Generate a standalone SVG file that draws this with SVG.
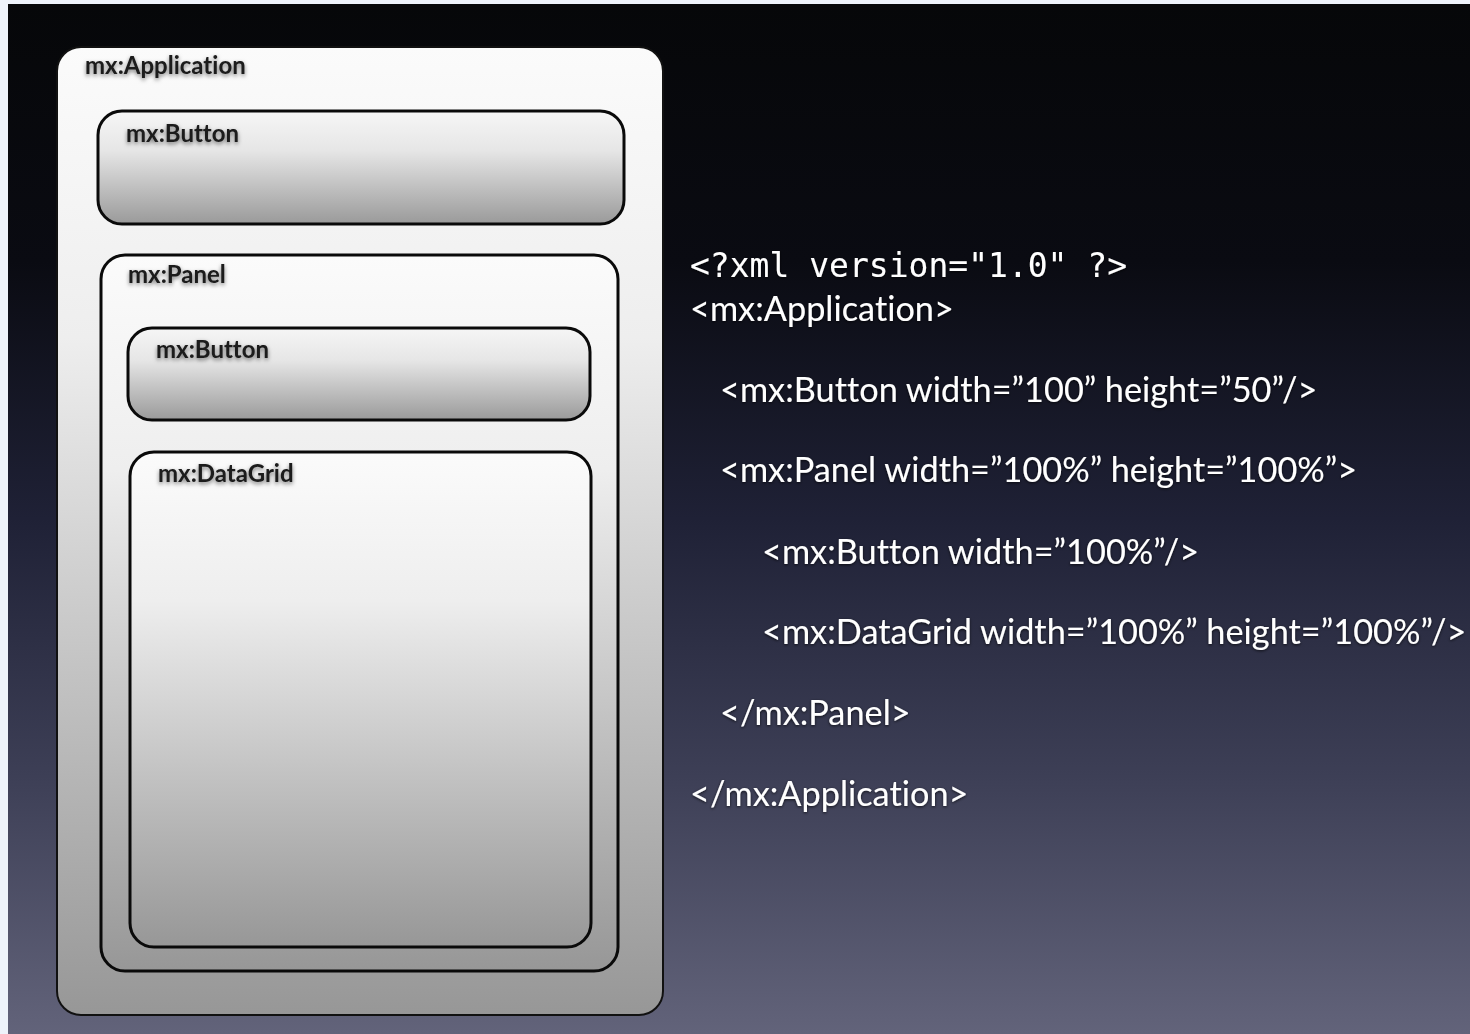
<svg xmlns="http://www.w3.org/2000/svg" width="1470" height="1034" viewBox="0 0 1470 1034">
<defs>
<linearGradient id="bg" x1="0" y1="0" x2="0" y2="1">
<stop offset="0" stop-color="#060709"/>
<stop offset="0.25" stop-color="#0a0b12"/>
<stop offset="0.5" stop-color="#1f2136"/>
<stop offset="0.75" stop-color="#3d3f56"/>
<stop offset="1" stop-color="#62637a"/>
</linearGradient>
<linearGradient id="gApp" x1="0" y1="0" x2="0" y2="1">
<stop offset="0" stop-color="#fbfbfb"/>
<stop offset="0.3" stop-color="#eeeeee"/>
<stop offset="1" stop-color="#979797"/>
</linearGradient>
<linearGradient id="gBtn" x1="0" y1="0" x2="0" y2="1">
<stop offset="0" stop-color="#f6f6f6"/>
<stop offset="0.35" stop-color="#e6e6e6"/>
<stop offset="1" stop-color="#9a9a9a"/>
</linearGradient>
<filter id="sh" x="-10%" y="-40%" width="120%" height="180%">
<feDropShadow dx="0" dy="2" stdDeviation="2" flood-color="#000" flood-opacity="0.55"/>
</filter>
<filter id="sh2" x="-5%" y="-40%" width="110%" height="180%">
<feDropShadow dx="0" dy="1" stdDeviation="1.5" flood-color="#000" flood-opacity="0.7"/>
</filter>
</defs>
<style>
text{font-variant-ligatures:none}
.box{stroke:#0a0a0a;stroke-width:3}
.lbl{font-family:Lato,"Liberation Sans",sans-serif;font-weight:bold;font-size:24px;fill:#1a1a1a;filter:url(#sh)}
.code{font-family:Lato,"Liberation Sans",sans-serif;font-size:34.3px;fill:#ffffff;filter:url(#sh2)}
.mono{font-family:"DejaVu Sans Mono",monospace;font-size:33px;fill:#ffffff;filter:url(#sh2)}
</style>
<rect x="0" y="0" width="1470" height="1034" fill="#eef3fa"/>
<rect x="8" y="4" width="1462" height="1030" fill="url(#bg)"/>
<g id="app">
<rect x="57" y="47" width="606" height="968" rx="24" fill="url(#gApp)" stroke="#111" stroke-width="2"/>
<text class="lbl" x="85" y="74">mx:Application</text>
</g>
<g id="button1">
<rect class="box" x="98" y="111" width="526" height="113" rx="24" fill="url(#gBtn)"/>
<text class="lbl" x="126" y="142">mx:Button</text>
</g>
<g id="panel">
<rect class="box" x="101" y="255" width="517" height="716" rx="24" fill="url(#gApp)"/>
<text class="lbl" x="128" y="283">mx:Panel</text>
</g>
<g id="button2">
<rect class="box" x="128" y="328" width="462" height="92" rx="24" fill="url(#gBtn)"/>
<text class="lbl" x="156" y="358">mx:Button</text>
</g>
<g id="datagrid">
<rect class="box" x="130" y="452" width="461" height="495" rx="24" fill="url(#gApp)"/>
<text class="lbl" x="158" y="482">mx:DataGrid</text>
</g>
<g id="connectors"></g>
<g id="code">
<text class="mono" x="690" y="277">&lt;?xml version="1.0" ?&gt;</text>
<text class="code" x="690" y="321">&lt;mx:Application&gt;</text>
<text class="code" x="720" y="402">&lt;mx:Button width=”100” height=”50”/&gt;</text>
<text class="code" x="720" y="482">&lt;mx:Panel width=”100%” height=”100%”&gt;</text>
<text class="code" x="762" y="564">&lt;mx:Button width=”100%”/&gt;</text>
<text class="code" x="762" y="644">&lt;mx:DataGrid width=”100%” height=”100%”/&gt;</text>
<text class="code" x="720" y="725">&lt;/mx:Panel&gt;</text>
<text class="code" x="690" y="806">&lt;/mx:Application&gt;</text>
</g>
</svg>
